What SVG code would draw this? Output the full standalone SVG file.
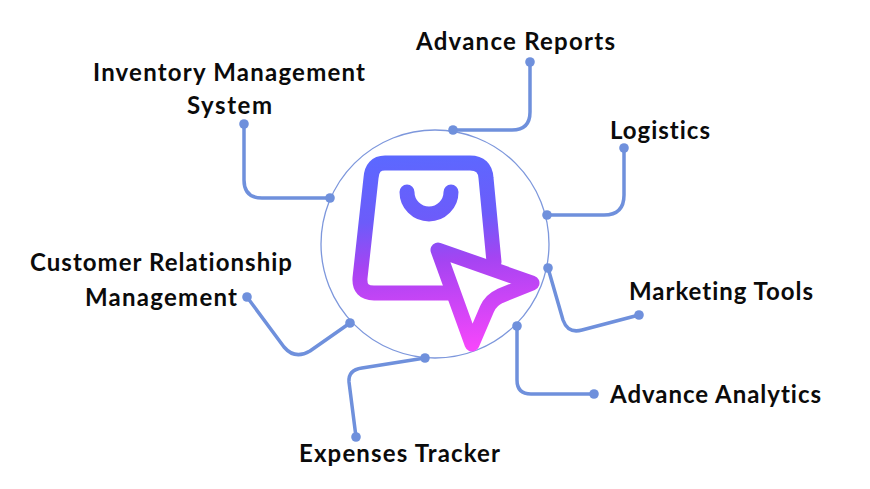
<svg xmlns="http://www.w3.org/2000/svg" width="870" height="489" viewBox="0 0 870 489">
<style>
.c{fill:none;stroke:#6f90dc;stroke-width:3.5;stroke-linecap:round;stroke-linejoin:round}
.d{fill:#6f90dc}
.g{fill:none;stroke:url(#grad);stroke-width:15;stroke-linecap:round;stroke-linejoin:round}
text{font-family:"Lato","Liberation Sans",sans-serif;font-weight:700;font-size:24px;fill:#0b0b0b;font-variant-ligatures:none}
</style>
<defs>
<linearGradient id="grad" gradientUnits="userSpaceOnUse" x1="425" y1="155" x2="440" y2="350">
<stop offset="0" stop-color="#5c68ff"/>
<stop offset="0.32" stop-color="#6c5cfa"/>
<stop offset="0.55" stop-color="#a544f2"/>
<stop offset="1" stop-color="#f546fb"/>
</linearGradient>
</defs>
<rect width="870" height="489" fill="#fff"/>
<circle id="ring" cx="435" cy="244" r="114" fill="none" stroke="#7d97dc" stroke-width="1.3"/>
<g id="icon">
<path class="g" d="M494 262L486 178Q485 163 470 163L385 163Q372 163 371 178L360 278Q359 293 374 293L452 293"/>
<path class="g" d="M407 192A22 22 0 0 0 451 192"/>
<path fill="#fff" d="M438 250L532 283L500 296Q491 300 487 309L472 344Z"/>
<path class="g" d="M438 250L532 283L500 296Q491 300 487 309L472 344Z"/>
</g>
<g id="connectors">
<path class="c" d="M530 62V112Q530 130 512 130H453"/>
<path class="c" d="M624 148V195Q624 215 604 215H547"/>
<path class="c" d="M548 268L563 320Q568 334 582 330L639 315"/>
<path class="c" d="M517 326V380Q517 394 531 394H594"/>
<path class="c" d="M425 358L362 368Q348 370 349 382L356 437"/>
<path class="c" d="M247 297L284 347Q295 360 310 351L350 323"/>
<path class="c" d="M244 124V180Q244 198 262 198H330"/>
</g>
<g id="advance-reports"><circle class="d" cx="530" cy="62" r="4.8"/><circle class="d" cx="453" cy="130" r="4.8"/><text x="416" y="50" textLength="199">Advance Reports</text></g>
<g id="logistics"><circle class="d" cx="624" cy="148" r="4.8"/><circle class="d" cx="547" cy="215" r="4.8"/><text x="610" y="139" textLength="100">Logistics</text></g>
<g id="marketing-tools"><circle class="d" cx="639" cy="315" r="4.8"/><circle class="d" cx="548" cy="268" r="4.8"/><text x="629" y="300" textLength="184">Marketing Tools</text></g>
<g id="advance-analytics"><circle class="d" cx="594" cy="394" r="4.8"/><circle class="d" cx="517" cy="326" r="4.8"/><text x="610" y="403" textLength="211">Advance Analytics</text></g>
<g id="expenses-tracker"><circle class="d" cx="356" cy="437" r="4.8"/><circle class="d" cx="425" cy="358" r="4.8"/><text x="299" y="462" textLength="201">Expenses Tracker</text></g>
<g id="crm"><circle class="d" cx="247" cy="297" r="4.8"/><circle class="d" cx="350" cy="323" r="4.8"/><text x="30" y="271" textLength="262">Customer Relationship</text><text x="85" y="306" textLength="152">Management</text></g>
<g id="inventory"><circle class="d" cx="244" cy="124" r="4.8"/><circle class="d" cx="330" cy="198" r="4.8"/><text x="93" y="81" textLength="272">Inventory Management</text><text x="187" y="114" textLength="85">System</text></g>
</svg>
